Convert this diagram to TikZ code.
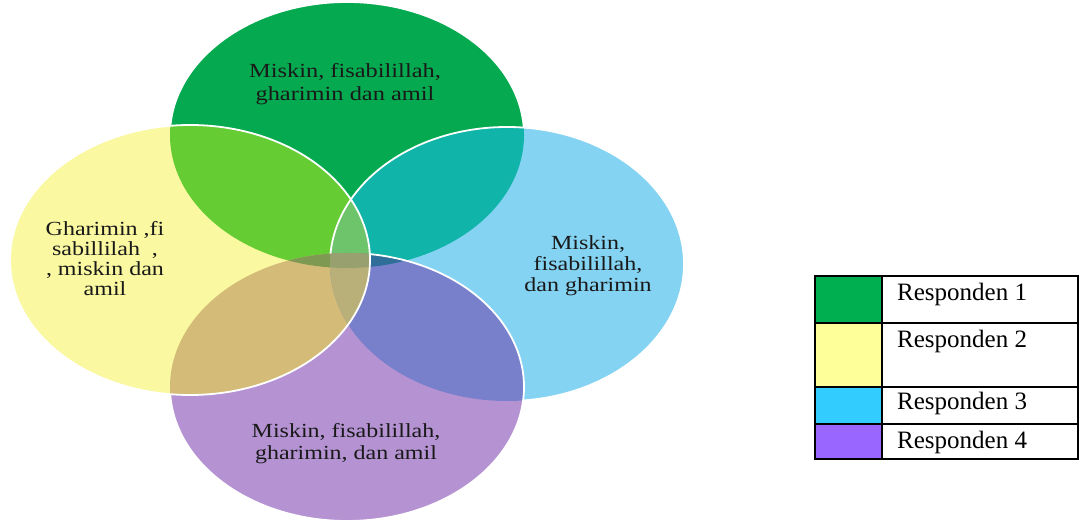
\documentclass[tikz,border=0pt]{standalone}
\usepackage{fontspec}
\setmainfont{Liberation Serif}
\usepackage{graphicx}
\definecolor{cG}{HTML}{05A94F}
\definecolor{cY}{HTML}{FAF8A0}
\definecolor{cB}{HTML}{84D3F2}
\definecolor{cP}{HTML}{B593D3}
\definecolor{cGY}{HTML}{66CC33}
\definecolor{cGB}{HTML}{10B4A8}
\definecolor{cYP}{HTML}{D4BC78}
\definecolor{cBP}{HTML}{7880CB}
\definecolor{cGP}{HTML}{7E9A52}
\definecolor{cYB}{HTML}{B8B078}
\definecolor{cGYB}{HTML}{6EC46A}
\definecolor{cGYP}{HTML}{7E9A52}
\definecolor{cGBP}{HTML}{2E6E98}
\definecolor{cYBP}{HTML}{B8B078}
\definecolor{cAll}{HTML}{98A070}
\definecolor{lG}{HTML}{00B050}
\definecolor{lY}{HTML}{FFFF99}
\definecolor{lB}{HTML}{33CCFF}
\definecolor{lP}{HTML}{9966FF}
\def\EG{(347,387) ellipse [x radius=177pt, y radius=133pt]}
\def\EY{(190,262) ellipse [x radius=180pt, y radius=135pt]}
\def\EB{(507,258) ellipse [x radius=177pt, y radius=137pt]}
\def\EP{(347,135) ellipse [x radius=177pt, y radius=134pt]}
\def\BB{(-5,-5) rectangle (1090,530)}
\tikzset{
  edge/.style={draw=white, line width=1.8pt},
  venntext/.style={text=black!90, align=center, inner sep=0pt},
  swatch/.style={draw=black, line width=2pt, minimum width=67pt, inner sep=0pt},
  cell/.style={draw=black, line width=2pt, minimum width=196pt, inner sep=0pt},
  leglabel/.style={anchor=base west, inner sep=0pt, font=\fontsize{25}{25}\selectfont}
}
\begin{document}
\begin{tikzpicture}[x=1pt, y=1pt]
\useasboundingbox (0,0) rectangle (1081,522);
% single fills
\fill[cG] \EG;
\fill[cB] \EB;
\fill[cP] \EP;
\fill[cY] \EY;
% pairs
\begin{scope}\clip \EG; \fill[cGY] \EY; \fill[cGB] \EB; \fill[cGP] \EP; \end{scope}
\begin{scope}\clip \EP; \fill[cYP] \EY; \fill[cBP] \EB; \end{scope}
\begin{scope}\clip \EY; \fill[cYB] \EB; \end{scope}
% triples
\begin{scope}\clip \EG; \clip \EY; \fill[cGYB] \EB; \fill[cGYP] \EP; \end{scope}
\begin{scope}\clip \EG; \clip \EB; \fill[cGBP] \EP; \end{scope}
\begin{scope}\clip \EY; \clip \EB; \fill[cYBP] \EP; \end{scope}
% all four
\begin{scope}\clip \EG; \clip \EY; \clip \EB; \fill[cAll] \EP; \end{scope}
% outlines
\begin{scope}[even odd rule]
  \clip \BB \EY;
  \clip \BB \EB;
  \clip \BB \EP;
  \draw[edge] \EG;
\end{scope}
\begin{scope}[even odd rule]
  \clip \BB \EP;
  \draw[edge] \EB;
\end{scope}
\begin{scope}[even odd rule]
  \clip \BB \EY;
  \draw[edge] \EP;
\end{scope}
\draw[edge] \EY;
% texts
\node[venntext] (tG) at (345,438) {\scalebox{1.22}[1]{\fontsize{20}{23}\selectfont\begin{tabular}{@{}c@{}}Miskin, fisabilillah,\\ gharimin dan amil\end{tabular}}};
\node[venntext] (tY) at (105,261) {\scalebox{1.2}[1]{\fontsize{20}{20}\selectfont\begin{tabular}{@{}c@{}}Gharimin ,fi\\ sabillilah\ \ ,\\ , miskin dan\\ amil\end{tabular}}};
\node[venntext] (tB) at (588,256) {\scalebox{1.2}[1]{\fontsize{20}{21}\selectfont\begin{tabular}{@{}c@{}}Miskin,\\ fisabilillah,\\ dan gharimin\end{tabular}}};
\node[venntext] (tP) at (346,78) {\scalebox{1.2}[1]{\fontsize{20}{22}\selectfont\begin{tabular}{@{}c@{}}Miskin, fisabilillah,\\ gharimin, dan amil\end{tabular}}};
% legend
\node[swatch, fill=lG, minimum height=47pt] (s1) at (848.5,222.5) {};
\node[swatch, fill=lY, minimum height=64pt] (s2) at (848.5,167) {};
\node[swatch, fill=lB, minimum height=37pt] (s3) at (848.5,116.5) {};
\node[swatch, fill=lP, minimum height=35pt] (s4) at (848.5,80.5) {};
\node[cell, minimum height=47pt] (c1) at (980,222.5) {};
\node[cell, minimum height=64pt] (c2) at (980,167) {};
\node[cell, minimum height=37pt] (c3) at (980,116.5) {};
\node[cell, minimum height=35pt] (c4) at (980,80.5) {};
\node[leglabel] (l1) at (897,221) {Responden 1};
\node[leglabel] (l2) at (897,174) {Responden 2};
\node[leglabel] (l3) at (897,112) {Responden 3};
\node[leglabel] (l4) at (897,74) {Responden 4};
\end{tikzpicture}
\end{document}
